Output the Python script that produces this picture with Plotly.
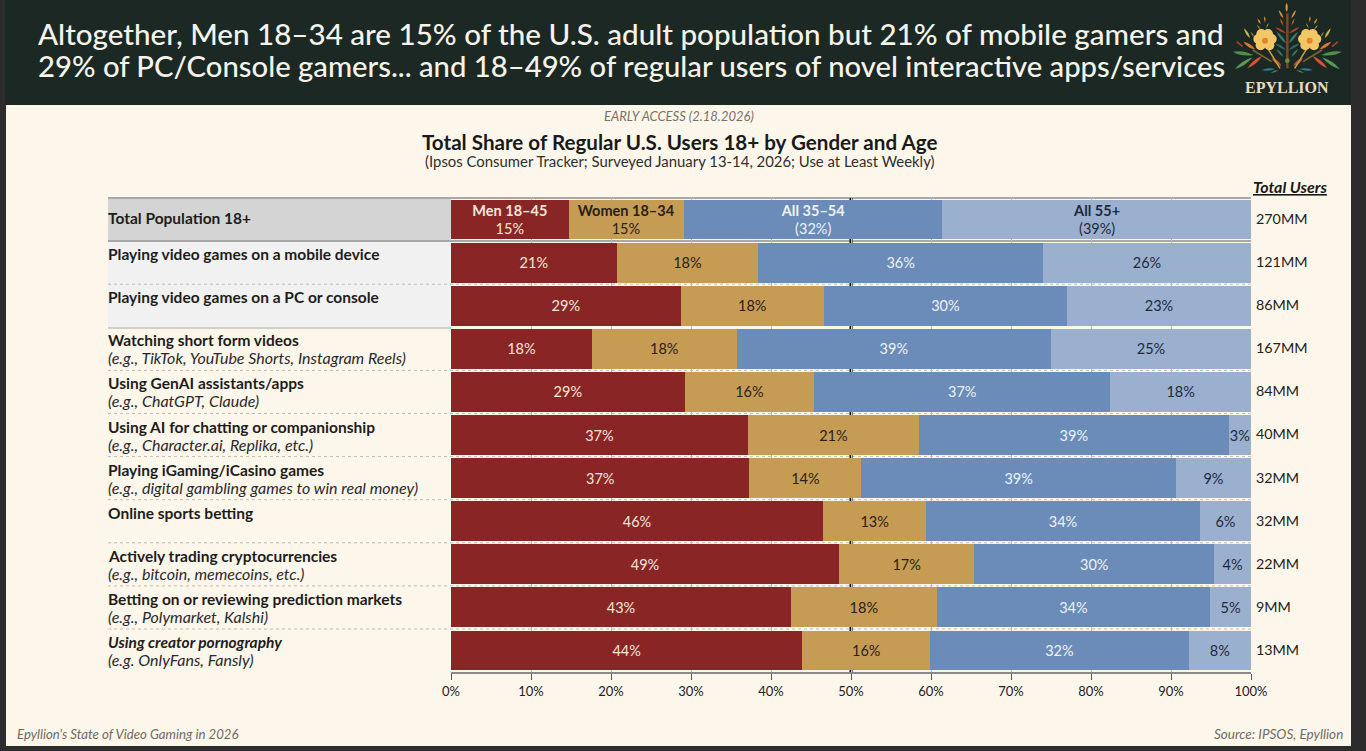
import plotly.graph_objects as go

W, H = 1366, 751
FONT = 'Lato'

categories = ['Total Population 18+', 'Playing video games on a mobile device',
              'Playing video games on a PC or console', 'Watching short form videos',
              'Using GenAI assistants/apps', 'Using AI for chatting or companionship',
              'Playing iGaming/iCasino games', 'Online sports betting',
              'Actively trading cryptocurrencies', 'Betting on or reviewing prediction markets',
              'Using creator pornography']
examples = ['', '', '', '(e.g., TikTok, YouTube Shorts, Instagram Reels)', '(e.g., ChatGPT, Claude)',
            '(e.g., Character.ai, Replika, etc.)', '(e.g., digital gambling games to win real money)',
            '', '(e.g., bitcoin, memecoins, etc.)', '(e.g., Polymarket, Kalshi)', '(e.g. OnlyFans, Fansly)']
total_users = ['270MM', '121MM', '86MM', '167MM', '84MM', '40MM', '32MM', '32MM', '22MM', '9MM', '13MM']

men = [14.7, 20.7, 28.7, 17.6, 29.2, 37.1, 37.3, 46.5, 48.5, 42.5, 43.9]
women = [14.4, 17.7, 17.9, 18.1, 16.2, 21.4, 14.0, 12.9, 16.9, 18.2, 16.0]
mid = [32.3, 35.6, 30.4, 39.3, 37.0, 38.7, 39.3, 34.2, 30.0, 34.2, 32.3]
older = [38.6, 26.0, 23.0, 25.0, 17.6, 2.8, 9.4, 6.4, 4.6, 5.1, 7.8]

men_text = ['<b>Men 18–45</b><br>15%', '21%', '29%', '18%', '29%', '37%', '37%', '46%', '49%', '43%', '44%']
women_text = ['<b>Women 18–34</b><br>15%', '18%', '18%', '18%', '16%', '21%', '14%', '13%', '17%', '18%', '16%']
mid_text = ['<b>All 35–54</b><br>(32%)', '36%', '30%', '39%', '37%', '39%', '39%', '34%', '30%', '34%', '32%']
older_text = ['<b>All 55+</b><br>(39%)', '26%', '23%', '25%', '18%', '3%', '9%', '6%', '4%', '5%', '8%']

tick_vals = [0, 10, 20, 30, 40, 50, 60, 70, 80, 90, 100]
tick_text = ['0%', '10%', '20%', '30%', '40%', '50%', '60%', '70%', '80%', '90%', '100%']


def px(x):
    return x / W


def py(y):
    return 1 - y / H


def rect(x0, y0, x1, y1, color, layer='below'):
    return dict(type='rect', xref='paper', yref='paper', x0=px(x0), x1=px(x1), y0=py(y0), y1=py(y1),
                fillcolor=color, line_width=0, layer=layer)


def hline(x0, x1, y, color, width=1, dash='solid'):
    return dict(type='line', xref='paper', yref='paper', x0=px(x0), x1=px(x1), y0=py(y), y1=py(y),
                line=dict(color=color, width=width, dash=dash), layer='below')


def note(x, y, text, size, color='#1d1d1d', anchor='left', font=FONT, weight=None):
    f = dict(family=font, size=size, color=color)
    if weight:
        f['weight'] = weight
    return dict(xref='paper', yref='paper', x=px(x), y=py(y), text=text, showarrow=False, xanchor=anchor,
                yanchor='middle', align=anchor, font=f, borderpad=0, borderwidth=0)


# logo helpers, coordinates measured in a 3x crop of the logo corner
def lx(c):
    return px(1230 + c / 3)


def ly(c):
    return py(c / 3)


def leaf(x0, y0, x1, y1, bulge, color):
    mx, my = (x0 + x1) / 2, (y0 + y1) / 2
    dx, dy = x1 - x0, y1 - y0
    ln = (dx ** 2 + dy ** 2) ** 0.5
    nx, ny = -dy / ln * bulge, dx / ln * bulge
    path = (f'M {lx(x0)} {ly(y0)} Q {lx(mx + nx)} {ly(my + ny)} {lx(x1)} {ly(y1)} '
            f'Q {lx(mx - nx)} {ly(my - ny)} {lx(x0)} {ly(y0)} Z')
    return dict(type='path', xref='paper', yref='paper', path=path, fillcolor=color, line_width=0, layer='above')


def dot(x, y, r, color):
    return dict(type='circle', xref='paper', yref='paper', x0=lx(x - r), x1=lx(x + r), y0=ly(y - r), y1=ly(y + r),
                fillcolor=color, line_width=0, layer='above')


def stem(x0, y0, x1, y1, color, width=1.5):
    return dict(type='line', xref='paper', yref='paper', x0=lx(x0), x1=lx(x1), y0=ly(y0), y1=ly(y1),
                line=dict(color=color, width=width), layer='above')


fig = go.Figure()
series = [(men, men_text, '#8a2526', '#f6e6dc'), (women, women_text, '#c69c55', '#2a2118'),
          (mid, mid_text, '#6b8cb8', '#eef2f7'), (older, older_text, '#9bb0cf', '#1e2a3c')]
for vals, labels, color, text_color in series:
    fig.add_trace(go.Bar(y=categories, x=vals, orientation='h', marker=dict(color=color, line_width=0),
                         text=labels, textposition='inside', insidetextanchor='middle', textangle=0,
                         constraintext='none', insidetextfont=dict(family=FONT, size=14.5, color=text_color),
                         hoverinfo='skip', showlegend=False))

shapes = [rect(6, 105, 1351, 746, '#fdf6ea'), rect(5, 0, 1351, 105, '#1c2823'),
          rect(108, 198, 451, 241, '#d4d4d4'), rect(108, 241, 451, 328, '#f1f1f1'),
          hline(108, 1251, 198, '#a8a8a8', 2), hline(108, 1251, 241, '#a8a8a8', 2), hline(108, 451, 328, '#a8a8a8', 1)]
for i in range(2, 11):
    if i != 3:
        shapes.append(hline(108, 1251, 198 + 43.1 * i, '#bdbdb5', 1, 'dot'))
shapes.append(dict(type='line', xref='x', yref='paper', x0=50, x1=50, y0=py(198), y1=py(672),
                   line=dict(color='#111111', width=3), layer='below'))

# logo, right half is mirrored around the stem at c=172
shapes += [stem(172, 40, 172, 205, '#7a4a25', 2.5)]
shapes += [leaf(170, 8, 170, 36, 7, '#dd9a3c')]
half = [(160, 55, 146, 30, 6, '#d98f38'), (160, 78, 150, 55, 5, '#c9582f'), (168, 100, 135, 82, 6, '#a8442c'),
        (105, 68, 104, 48, 5, '#cf9a3f'), (92, 72, 82, 55, 5, '#cf9a3f'), (108, 85, 116, 68, 4, '#b88a35'),
        (92, 88, 80, 74, 4, '#b88a35'), (60, 115, 42, 85, 7, '#cdb352'), (72, 110, 62, 95, 4, '#8f9a45'),
        (75, 148, 40, 125, 9, '#e0782f'), (168, 130, 140, 95, 8, '#3f7a66'), (168, 150, 135, 130, 7, '#2f6a70'),
        (160, 170, 140, 148, 6, '#3f7a55'), (70, 165, 8, 155, 11, '#4f8f4f'), (68, 172, 14, 208, 10, '#5f9a55'),
        (52, 205, 96, 168, 10, '#d4552f'), (155, 198, 125, 175, 10, '#b5522c'), (135, 207, 95, 210, 7, '#2f7f8a'),
        (146, 210, 122, 219, 5, '#4f8a55')]
for (a, b, c, d, e, col) in half:
    shapes.append(leaf(a, b, c, d, e, col))
    shapes.append(leaf(344 - a, b, 344 - c, d, e, col))
for (a, b, c, d, col) in [(115, 148, 150, 205, '#c9a13f'), (68, 150, 125, 185, '#7a6a35'), (20, 125, 38, 140, '#a8442c')]:
    shapes.append(stem(a, b, c, d, col))
    shapes.append(stem(344 - a, b, 344 - c, d, col))
for cx in (105, 239):
    for ox, oy in [(-20, -5), (-11, -20), (9, -20), (20, -5), (13, 14), (-13, 14)]:
        shapes.append(dot(cx + ox, 122 + oy, 15, '#f3c766'))
    shapes += [dot(cx, 122, 14, '#f3c766'), dot(cx, 122, 9, '#e0862f')]
shapes.append(dot(172, 182, 7, '#6f8a45'))

annotations = [
    note(38, 33, 'Altogether, Men 18–34 are 15% of the U.S. adult population but 21% of mobile gamers and', 29.6, '#f6f3ea', weight=500),
    note(38, 65, '29% of PC/Console gamers... and 18–49% of regular users of novel interactive apps/services', 29.25, '#f6f3ea', weight=500),
    note(1287, 87, '<b>EPYLLION</b>', 16, '#e8dcc0', 'center', font='Liberation Serif'),
    note(679, 116, '<i>EARLY ACCESS (2.18.2026)</i>', 13, '#77726a', 'center'),
    note(679, 142, '<b>Total Share of Regular U.S. Users 18+ by Gender and Age</b>', 20.6, '#1a1a1a', 'center'),
    note(679, 161, '(Ipsos Consumer Tracker; Surveyed January 13-14, 2026; Use at Least Weekly)', 14.9, '#2e2e2e', 'center'),
    note(1327, 186, '<b><i><u>Total Users</u></i></b>', 16, '#1a1a1a', 'right'),
    note(17, 734, "<i>Epyllion's State of Video Gaming in 2026</i>", 13.2, '#6f6b64'),
    note(1343, 734, '<i>Source: IPSOS, Epyllion</i>', 13.5, '#6f6b64', 'right'),
]
for i, (cat, ex, tot) in enumerate(zip(categories, examples, total_users)):
    y_mid = 218.5 + 43.1 * i
    title = f'<b><i>{cat}</i></b>' if cat.startswith('Using creator') else f'<b>{cat}</b>'
    if i == 0:
        annotations.append(note(108, y_mid, title, 15.5))
    else:
        annotations.append(note(108, y_mid - 7.5, title, 15.5))
        if ex:
            annotations.append(note(108, y_mid + 10, f'<i>{ex}</i>', 16, '#2a2a2a'))
    annotations.append(note(1256, y_mid, tot, 14.3, '#222222'))

fig.update_layout(
    width=W, height=H, margin=dict(l=0, r=0, t=0, b=0), paper_bgcolor='#2c2c2c', plot_bgcolor='rgba(0,0,0,0)',
    barmode='stack', bargap=0.075, shapes=shapes, annotations=annotations,
    font=dict(family=FONT),
    xaxis=dict(domain=[px(451), px(1251)], range=[0, 100], tickvals=tick_vals, ticktext=tick_text, automargin=False,
               ticks='outside', ticklen=6, tickcolor='#555555', tickwidth=1, showline=True, linecolor='#8a8a8a',
               linewidth=2, showgrid=True, gridcolor='#bdbdb5', gridwidth=1, zeroline=False,
               tickfont=dict(family=FONT, size=13, color='#222222')),
    yaxis=dict(domain=[py(672), py(198)], autorange='reversed', showticklabels=False, showgrid=False,
               ticks='', zeroline=False, showline=False, automargin=False),
)

fig.write_html("out.html", config={'displayModeBar': False},
               post_script="document.body.style.margin='0';document.body.style.overflow='hidden';")
